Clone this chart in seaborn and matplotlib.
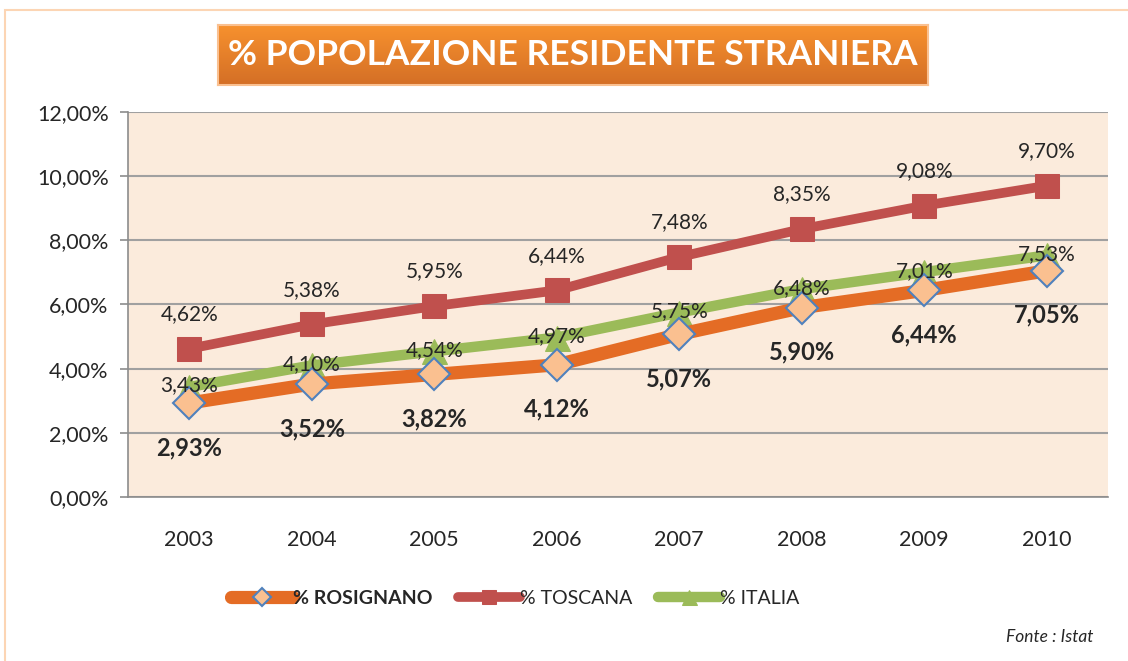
import numpy as np
import pandas as pd
import matplotlib
matplotlib.use('Agg')
import matplotlib.pyplot as plt
import seaborn as sns
from matplotlib.ticker import FuncFormatter, MultipleLocator
from matplotlib.patches import Rectangle

# dati (Istat)
anni = [2003, 2004, 2005, 2006, 2007, 2008, 2009, 2010]
rosignano = [2.93, 3.52, 3.82, 4.12, 5.07, 5.90, 6.44, 7.05]
toscana = [4.62, 5.38, 5.95, 6.44, 7.48, 8.35, 9.08, 9.70]
italia = [3.43, 4.10, 4.54, 4.97, 5.75, 6.48, 7.01, 7.53]

sns.set_style('white')
plt.rcParams['font.family'] = ['Lato', 'DejaVu Sans']

def pct(v):
    return f"{v:.2f}%".replace('.', ',')

fig = plt.figure(figsize=(11.28, 6.61), dpi=100)
ax = fig.add_axes([0.1135, 0.2481, 0.8688, 0.5825])
ax.set_facecolor('#FBEBDC')

# cornice esterna
fig.patches.append(Rectangle((5 / 1128, -0.01), 1.1, 1 - 10 / 661 + 0.01, transform=fig.transFigure,
                             fill=False, edgecolor='#FCD5B4', linewidth=1.5))

# linee
sns.lineplot(x=anni, y=toscana, ax=ax, color='#C0504D', linewidth=7, marker='s', markersize=17,
             markeredgecolor='#C0504D', markerfacecolor='#C0504D', label='% TOSCANA', zorder=3)
sns.lineplot(x=anni, y=italia, ax=ax, color='#9BBB59', linewidth=7.5, marker='^', markersize=18,
             markeredgecolor='#9BBB59', markerfacecolor='#9BBB59', label='% ITALIA', zorder=4)
sns.lineplot(x=anni, y=rosignano, ax=ax, color='#E46C25', linewidth=9.5, marker='D', markersize=16,
             markeredgecolor='#4F81BD', markerfacecolor='#FAC090', markeredgewidth=1.5,
             label='% ROSIGNANO', zorder=5)

# etichette dati
for x, v in zip(anni, toscana):
    ax.annotate(pct(v), (x, v), xytext=(0, 25), textcoords='offset points', ha='center', va='center',
                fontsize=15, color='#262626', zorder=6)
for x, v in zip(anni, italia):
    ax.annotate(pct(v), (x, v), xytext=(0, 1), textcoords='offset points', ha='center', va='center',
                fontsize=15, color='#262626', zorder=6)
for x, v in zip(anni, rosignano):
    ax.annotate(pct(v), (x, v), xytext=(0, -32), textcoords='offset points', ha='center', va='center',
                fontsize=17, fontweight='bold', color='#262626', zorder=6)

# assi
ax.set_xlim(2002.5, 2010.5)
ax.set_ylim(0, 12)
ax.yaxis.set_major_locator(MultipleLocator(2))
ax.yaxis.set_major_formatter(FuncFormatter(lambda v, p: f"{v:.2f}%".replace('.', ',')))
ax.set_xticks(anni)
ax.set_xticklabels([str(a) for a in anni])
ax.set_xticks([a - 0.5 for a in anni] + [2010.5], minor=True)
ax.tick_params(axis='x', which='major', length=0, pad=24, labelsize=15.5, colors='#262626')
ax.tick_params(axis='x', which='minor', length=8, width=1.2, color='#8C8C8C', direction='out')
ax.tick_params(axis='y', which='major', length=6, width=1.2, color='#8C8C8C', pad=8,
               labelsize=15.5, labelcolor='#262626', direction='out', left=True)
ax.grid(axis='y', color='#A0A0A0', linewidth=1.5)
ax.set_axisbelow(True)
for s in ['top', 'right']:
    ax.spines[s].set_visible(False)
for s in ['left', 'bottom']:
    ax.spines[s].set_color('#8C8C8C')
    ax.spines[s].set_linewidth(1.2)

# legenda
h, l = ax.get_legend_handles_labels()
ordine = [2, 0, 1]
leg = ax.legend([h[i] for i in ordine], [l[i] for i in ordine], loc='center',
                bbox_to_anchor=(515 / 1128, 1 - 598 / 661), bbox_transform=fig.transFigure,
                ncol=3, frameon=False, fontsize=14, handlelength=3.2, handletextpad=0.0,
                columnspacing=1.3, markerscale=0.6)
for t in leg.get_texts():
    t.set_color('#262626')
leg.get_texts()[0].set_fontweight('bold')

# titolo con sfondo sfumato
tax = fig.add_axes([218 / 1128, 1 - 85 / 661, 710 / 1128, 60 / 661])
grad = np.linspace(0, 1, 100).reshape(-1, 1)
cmap = matplotlib.colors.LinearSegmentedColormap.from_list('tit', ['#F7912E', '#D46F26'])
tax.imshow(grad, aspect='auto', cmap=cmap, extent=[0, 1, 0, 1], origin='upper')
tax.set_xticks([])
tax.set_yticks([])
for s in tax.spines.values():
    s.set_color('#FAC090')
    s.set_linewidth(1.5)
tax.text(0.5, 0.5, '% POPOLAZIONE RESIDENTE STRANIERA', ha='center', va='center',
         fontsize=25.5, fontweight='bold', color='white', transform=tax.transAxes)

fig.text(1050 / 1128, 1 - 637 / 661, 'Fonte : Istat', ha='center', va='center',
         fontsize=12.5, style='italic', color='#262626')

fig.savefig('out.png', dpi=100)
